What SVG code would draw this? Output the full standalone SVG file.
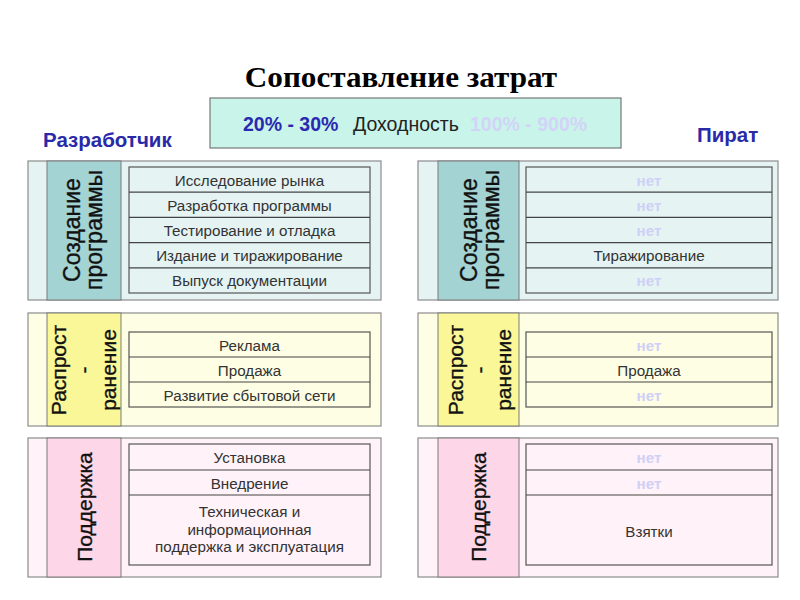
<svg xmlns="http://www.w3.org/2000/svg" width="800" height="600" viewBox="0 0 800 600">
<style>
text{font-family:"Liberation Sans",Arial,sans-serif}
.title{font-family:"Liberation Serif","Times New Roman",serif;font-weight:bold;font-size:29px;fill:#000}
.who{font-weight:bold;font-size:20.5px;fill:#2a2aa8}
.outer{stroke:#8c8c8c;stroke-width:1.2}
.col{stroke:#7a7a7a;stroke-width:1}
.items{fill:none;stroke:#555;stroke-width:1.2}
.sep{stroke:#444;stroke-width:1.2}
.it{font-size:15.2px;fill:#333;text-anchor:middle}
.no{font-size:15.2px;font-weight:bold;fill:#cfd0f6;text-anchor:middle}
.vt{font-size:21px;fill:#111;stroke:#111;stroke-width:0.35;text-anchor:middle}
.vb{font-size:23px}
.pt{font-size:19.5px}
.t1 .outer{fill:#e5f4f3}.t1 .col{fill:#a3d3d2}
.t2 .outer{fill:#fefee4}.t2 .col{fill:#f9f797}
.t3 .outer{fill:#fff2f8}.t3 .col{fill:#fdd7e7}
</style>

<text class="title" transform="translate(401,87) scale(1.075,1)" text-anchor="middle">Сопоставление затрат</text>

<g id="profit">
<rect x="210" y="98" width="411" height="50" fill="#c9f4ea" stroke="#777" stroke-width="1.2"/>
<text class="pt" x="243" y="131" font-weight="bold" fill="#2a2ab0">20% - 30%</text>
<text class="pt" x="353" y="131" fill="#222">Доходность</text>
<text class="pt" x="470" y="131" font-weight="bold" fill="#d2d4f6">100% - 900%</text>
</g>

<text id="dev" class="who" x="43" y="147">Разработчик</text>
<text id="pirate" class="who" x="697" y="142">Пират</text>

<!-- Developer: creation -->
<g id="dev-create" class="t1">
<rect class="outer" x="28" y="161" width="353" height="139"/>
<rect class="col" x="47" y="161" width="74" height="139"/>
<g transform="translate(80,230) rotate(-90)"><text class="vt vb" x="0" y="0">Создание</text><text class="vt vb" x="0" y="22">программы</text></g>
<rect class="items" x="129" y="167" width="241" height="126"/>
<line class="sep" x1="129" y1="192.2" x2="370" y2="192.2"/>
<line class="sep" x1="129" y1="217.4" x2="370" y2="217.4"/>
<line class="sep" x1="129" y1="242.6" x2="370" y2="242.6"/>
<line class="sep" x1="129" y1="267.8" x2="370" y2="267.8"/>
<text class="it" x="249.5" y="185.5">Исследование рынка</text>
<text class="it" x="249.5" y="210.7">Разработка программы</text>
<text class="it" x="249.5" y="235.9">Тестирование и отладка</text>
<text class="it" x="249.5" y="261.1">Издание и тиражирование</text>
<text class="it" x="249.5" y="286.3">Выпуск документации</text>
</g>

<!-- Developer: distribution -->
<g id="dev-distr" class="t2">
<rect class="outer" x="28" y="313" width="353" height="113"/>
<rect class="col" x="47" y="313" width="74" height="113"/>
<g transform="translate(66,370) rotate(-90)"><text class="vt" x="0" y="0">Распрост</text><text class="vt" x="0" y="25">-</text><text class="vt" x="0" y="50">ранение</text></g>
<rect class="items" x="129" y="332" width="241" height="75"/>
<line class="sep" x1="129" y1="357" x2="370" y2="357"/>
<line class="sep" x1="129" y1="382" x2="370" y2="382"/>
<text class="it" x="249.5" y="350.5">Реклама</text>
<text class="it" x="249.5" y="375.5">Продажа</text>
<text class="it" x="249.5" y="400.5">Развитие сбытовой сети</text>
</g>

<!-- Developer: support -->
<g id="dev-support" class="t3">
<rect class="outer" x="28" y="438" width="353" height="139"/>
<rect class="col" x="47" y="438" width="74" height="139"/>
<g transform="translate(92,507) rotate(-90)"><text class="vt" x="0" y="0">Поддержка</text></g>
<rect class="items" x="129" y="444" width="241" height="121"/>
<line class="sep" x1="129" y1="470" x2="370" y2="470"/>
<line class="sep" x1="129" y1="495" x2="370" y2="495"/>
<text class="it" x="249.5" y="463">Установка</text>
<text class="it" x="249.5" y="488.5">Внедрение</text>
<text class="it" x="249.5" y="517">Техническая и</text>
<text class="it" x="249.5" y="534.5">информационная</text>
<text class="it" x="249.5" y="552">поддержка и эксплуатация</text>
</g>

<!-- Pirate: creation -->
<g id="pir-create" class="t1">
<rect class="outer" x="418" y="161" width="360" height="139"/>
<rect class="col" x="438" y="161" width="81" height="139"/>
<g transform="translate(477,230) rotate(-90)"><text class="vt vb" x="0" y="0">Создание</text><text class="vt vb" x="0" y="22">программы</text></g>
<rect class="items" x="526" y="167" width="246" height="126"/>
<line class="sep" x1="526" y1="192.2" x2="772" y2="192.2"/>
<line class="sep" x1="526" y1="217.4" x2="772" y2="217.4"/>
<line class="sep" x1="526" y1="242.6" x2="772" y2="242.6"/>
<line class="sep" x1="526" y1="267.8" x2="772" y2="267.8"/>
<text class="no" x="649" y="185.5">нет</text>
<text class="no" x="649" y="210.7">нет</text>
<text class="no" x="649" y="235.9">нет</text>
<text class="it" x="649" y="261.1">Тиражирование</text>
<text class="no" x="649" y="286.3">нет</text>
</g>

<!-- Pirate: distribution -->
<g id="pir-distr" class="t2">
<rect class="outer" x="418" y="313" width="360" height="113"/>
<rect class="col" x="438" y="313" width="81" height="113"/>
<g transform="translate(463,370) rotate(-90)"><text class="vt" x="0" y="0">Распрост</text><text class="vt" x="0" y="24">-</text><text class="vt" x="0" y="48">ранение</text></g>
<rect class="items" x="526" y="332" width="246" height="75"/>
<line class="sep" x1="526" y1="357" x2="772" y2="357"/>
<line class="sep" x1="526" y1="382" x2="772" y2="382"/>
<text class="no" x="649" y="350.5">нет</text>
<text class="it" x="649" y="375.5">Продажа</text>
<text class="no" x="649" y="400.5">нет</text>
</g>

<!-- Pirate: support -->
<g id="pir-support" class="t3">
<rect class="outer" x="418" y="438" width="360" height="139"/>
<rect class="col" x="438" y="438" width="81" height="139"/>
<g transform="translate(486,507) rotate(-90)"><text class="vt" x="0" y="0">Поддержка</text></g>
<rect class="items" x="526" y="444" width="246" height="121"/>
<line class="sep" x1="526" y1="470" x2="772" y2="470"/>
<line class="sep" x1="526" y1="495" x2="772" y2="495"/>
<text class="no" x="649" y="463">нет</text>
<text class="no" x="649" y="488.5">нет</text>
<text class="it" x="649" y="537">Взятки</text>
</g>
</svg>
